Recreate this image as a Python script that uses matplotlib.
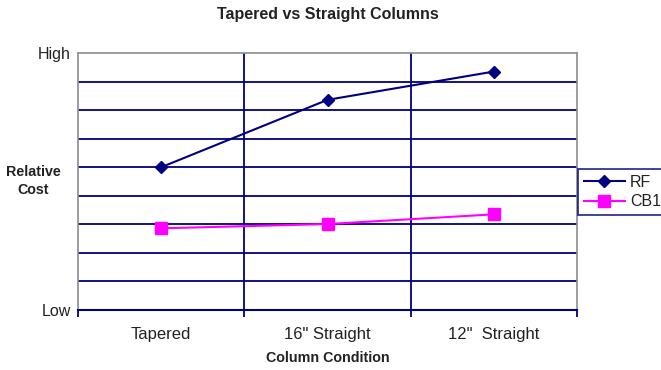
import matplotlib
matplotlib.use("Agg")
import matplotlib.pyplot as plt

plt.rcParams["font.family"] = ["Liberation Sans", "DejaVu Sans"]

conditions = ["Tapered", "16\" Straight", "12\"  Straight"]
rf_cost = [5.0, 7.36, 8.35]
cb1_cost = [2.86, 3.01, 3.35]
grid_levels = list(range(10))
level_labels = ["Low"] + [""] * 8 + ["High"]

navy = "#000080"
magenta = "#FF00FF"
gray = "#8c8c8c"

W, H = 661, 370
fig = plt.figure(figsize=(W / 100, H / 100), dpi=100)
ax = fig.add_axes([78 / W, (H - 310) / H, (577 - 78) / W, (310 - 53) / H])

x = list(range(len(conditions)))
ax.set_xlim(-0.5, len(conditions) - 0.5)
ax.set_ylim(grid_levels[0], grid_levels[-1])

# horizontal grid
for lv in grid_levels[1:-1]:
    ax.axhline(lv, color=navy, lw=1.3, zorder=1)
# category separators
for b in [i + 0.5 for i in x[:-1]]:
    ax.axvline(b, color=navy, lw=1.3, zorder=1)

ax.plot(x, rf_cost, color=navy, lw=1.5, marker="D", markersize=6.5,
        label="RF", zorder=3, clip_on=False)
ax.plot(x, cb1_cost, color=magenta, lw=1.5, marker="s", markersize=8,
        label="CB1", zorder=3, clip_on=False)

for s in ["left", "top", "right"]:
    ax.spines[s].set_color(gray)
    ax.spines[s].set_linewidth(1.2)
ax.spines["bottom"].set_color(navy)
ax.spines["bottom"].set_linewidth(1.5)

# x ticks at boundaries, labels at centers
ax.set_xticks([i - 0.5 for i in range(len(conditions) + 1)])
ax.set_xticklabels([])
ax.tick_params(axis="x", which="major", length=5, width=1.3, color=navy, direction="out")
ax.set_xticks(x, minor=True)
ax.set_xticklabels(conditions, minor=True, fontsize=12, color="#222222")
ax.tick_params(axis="x", which="minor", length=0, pad=12)

ax.set_yticks([grid_levels[0], grid_levels[-1]])
ax.set_yticklabels([level_labels[0], level_labels[-1]], fontsize=11.5, color="#222222")
ax.tick_params(axis="y", length=0, pad=5)

ax.set_xlabel("Column Condition", fontsize=10.3, fontweight="bold", color="#222222", labelpad=7)
fig.text(33 / W, 1 - 181 / H, "Relative\nCost", ha="center", va="center",
         fontsize=10.3, fontweight="bold", color="#222222", linespacing=1.3)

fig.text(328 / W, 1 - 14 / H, "Tapered vs Straight Columns", ha="center", va="center",
         fontsize=11.5, fontweight="bold", color="#222222")

leg = fig.legend(loc="upper left", bbox_to_anchor=(578 / W, 1 - 169 / H),
                 frameon=True, fancybox=False, borderaxespad=0, fontsize=11.5,
                 handlelength=2.6, handletextpad=0.3, borderpad=0.35, labelspacing=0.3)
leg.get_frame().set_edgecolor(navy)
leg.get_frame().set_linewidth(1.3)
for t in leg.get_texts():
    t.set_color("#222222")

fig.savefig("out.png", dpi=100)
